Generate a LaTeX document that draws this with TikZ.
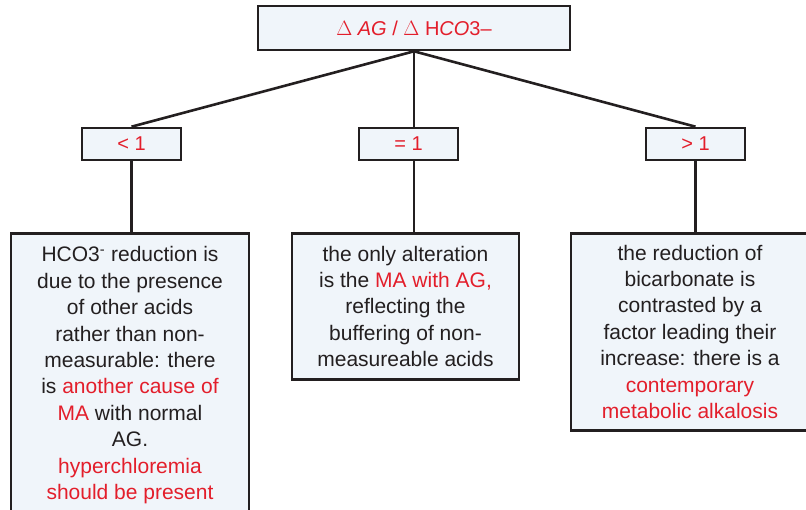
\documentclass[tikz,border=0pt]{standalone}
\usepackage{fontspec}
\setmainfont{Liberation Sans}
\definecolor{ink}{HTML}{231F20}
\definecolor{accent}{HTML}{E31E2B}
\definecolor{boxfill}{HTML}{F0F5FA}
\newcommand{\hl}[1]{\textcolor{accent}{#1}}
\begin{document}
\begin{tikzpicture}[x=1pt,y=-1pt,
  box/.style={draw=ink,line width=2.6pt,fill=boxfill,rectangle,inner sep=0pt},
  label/.style={box,text=accent,font=\fontsize{20}{24}\selectfont},
  note/.style={box,anchor=north,align=center,text=ink,
    font=\fontsize{21}{26.4}\selectfont},
  link/.style={draw=ink,line width=2.6pt}]
  \useasboundingbox (0,0) rectangle (806,510);
  \begin{scope}
    \clip (0,0) rectangle (806,510);
    % root ratio
    \node[label,minimum width=312pt,minimum height=44pt] (root) at (414,28)
      {$\Delta$ \textit{AG} / $\Delta$ H\textit{CO}3–};
    % three ranges of the ratio
    \node[label,minimum width=99pt,minimum height=32pt] (lt) at (131.5,144) {< 1};
    \node[label,minimum width=99pt,minimum height=32pt] (eq) at (408.5,144) {= 1};
    \node[label,minimum width=99pt,minimum height=32pt] (gt) at (695.5,144) {> 1};
    % interpretations
    \node[note,minimum width=238pt,minimum height=284pt] (bl) at (130,232)
      {HCO3\textsuperscript{-} reduction is\\due to the presence\\of other acids\\rather than non-\\measurable: there\\is \hl{another cause of}\\\hl{MA} with normal\\AG.\\\hl{hyperchloremia}\\\hl{should be present}};
    \node[note,minimum width=227pt,minimum height=146pt] (bm) at (405.5,232)
      {the only alteration\\is the \hl{MA with AG,}\\reflecting the\\buffering of non-\\measureable acids};
    \node[note,minimum width=238pt,minimum height=197pt] (br) at (690,232)
      {the reduction of\\bicarbonate is\\contrasted by a\\factor leading their\\increase: there is a\\\hl{contemporary}\\\hl{metabolic alkalosis}};
    % connectors
    \draw[link] (root.south) -- (lt.north);
    \draw[link] (root.south) -- (root.south |- eq.north);
    \draw[link] (root.south) -- (gt.north);
    \draw[link] (lt.south) -- (lt.south |- bl.north);
    \draw[link] (root.south |- eq.south) -- (root.south |- bm.north);
    \draw[link] (gt.south) -- (gt.south |- br.north);
  \end{scope}
\end{tikzpicture}
\end{document}
